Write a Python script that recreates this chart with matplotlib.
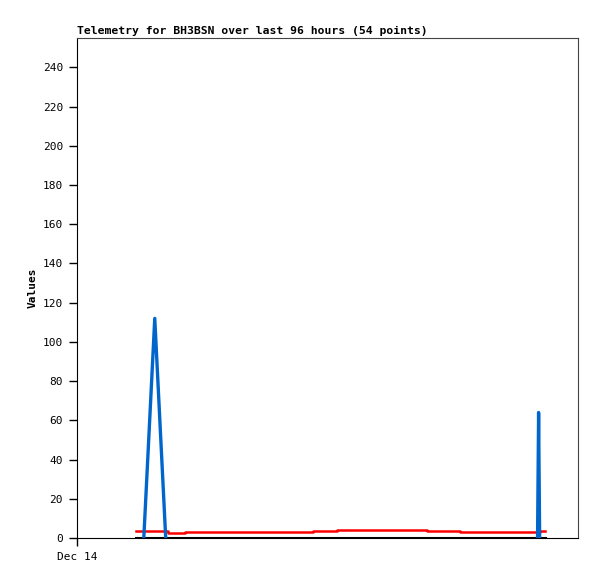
import matplotlib
matplotlib.use('Agg')
import matplotlib.pyplot as plt

# hours since Dec 14 00:00 (window is 96 hours)
red_hours = [11.3, 15.9, 16.5, 17.4, 20.1, 20.7, 21.7, 22.2, 45.2, 49.8, 67.1, 73.4, 88.7, 89.7]
red_vals = [3.8, 3.8, 3.5, 2.6, 2.6, 3.3, 3.3, 2.9, 3.4, 4.0, 3.4, 2.9, 3.8, 3.8]

blue_hours = [12.8, 14.9, 17.0, None, 88.25, 88.35, 88.45, 88.55, 88.65]
blue_vals = [0, 112, 0, None, 0, 32, 64, 32, 0]

black_hours = [11.3, 89.7]
black_vals = [0, 0]

title = "Telemetry for BH3BSN over last 96 hours (54 points)"
yticks = list(range(0, 241, 20))

plt.rcParams['font.family'] = ['DejaVu Sans Mono']

fig = plt.figure(figsize=(5.97, 5.79), dpi=100)
ax = fig.add_axes([77/597, 41/579, 501/597, 500/579])

# split blue into two segments (None marks a gap)
seg_h, seg_v = [], []
for h, v in zip(blue_hours, blue_vals):
    if h is None:
        ax.plot(seg_h, seg_v, color='#0066cc', lw=2.4, zorder=3)
        seg_h, seg_v = [], []
    else:
        seg_h.append(h)
        seg_v.append(v)
ax.plot(seg_h, seg_v, color='#0066cc', lw=2.4, zorder=3)

ax.plot(red_hours, red_vals, color='#ff0000', lw=1.8, drawstyle='steps-post', zorder=2)
ax.plot(black_hours, black_vals, color='black', lw=2.2, zorder=1)

ax.set_xlim(0, 96)
ax.set_ylim(0, 255)
ax.set_yticks(yticks)
ax.set_yticklabels([str(t) for t in yticks], fontsize=8)
ax.set_xticks([0])
ax.set_xticklabels(['Dec 14'], fontsize=8)
ax.tick_params(direction='out', length=6, width=1, pad=4)

ax.set_ylabel('Values', fontsize=8, fontweight='bold')
ax.set_title(title, fontsize=8.2, fontweight='bold', loc='left', pad=3)

for side in ['top', 'right']:
    ax.spines[side].set_color('#444444')
for side in ['left', 'bottom']:
    ax.spines[side].set_color('black')

fig.savefig('out.png', dpi=100)
